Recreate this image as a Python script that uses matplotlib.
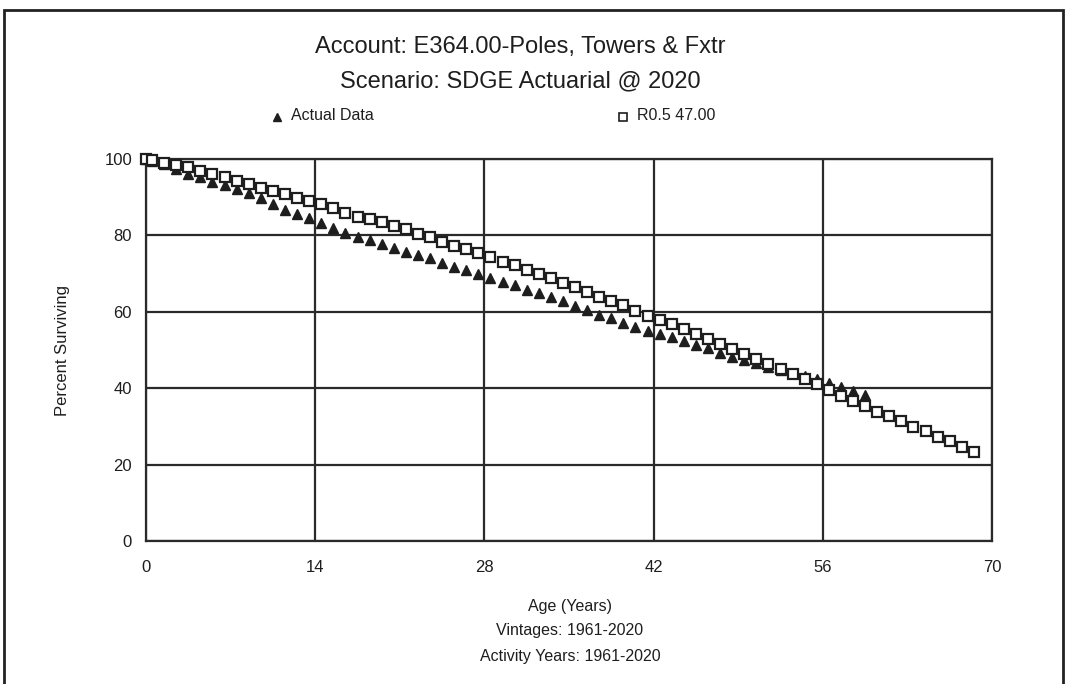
import matplotlib
matplotlib.use('Agg')
import matplotlib.pyplot as plt
from matplotlib.lines import Line2D
from matplotlib.patches import Rectangle

plt.rcParams['font.family'] = ['Liberation Sans', 'DejaVu Sans']

# ---- data ----
fit_ages = [0, 0.5, 1.5, 2.5, 3.5, 4.5, 5.5, 6.5, 7.5, 8.5, 9.5, 10.5, 11.5, 12.5,
            13.5, 14.5, 15.5, 16.5, 17.5, 18.5, 19.5, 20.5, 21.5, 22.5, 23.5, 24.5,
            25.5, 26.5, 27.5, 28.5, 29.5, 30.5, 31.5, 32.5, 33.5, 34.5, 35.5, 36.5,
            37.5, 38.5, 39.5, 40.5, 41.5, 42.5, 43.5, 44.5, 45.5, 46.5, 47.5, 48.5,
            49.5, 50.5, 51.5, 52.5, 53.5, 54.5, 55.5, 56.5, 57.5, 58.5, 59.5, 60.5,
            61.5, 62.5, 63.5, 64.5, 65.5, 66.5, 67.5, 68.5]
fit_pct = [100.0, 99.7, 99.0, 98.4, 97.8, 96.9, 96.0, 95.2, 94.2, 93.4, 92.5, 91.7,
           90.8, 89.9, 89.0, 88.1, 87.1, 85.9, 84.9, 84.2, 83.4, 82.5, 81.6, 80.4,
           79.5, 78.4, 77.3, 76.4, 75.3, 74.3, 73.1, 72.2, 70.9, 70.0, 68.8, 67.6,
           66.4, 65.1, 64.0, 62.9, 61.7, 60.3, 59.0, 57.9, 56.7, 55.4, 54.2, 52.8,
           51.6, 50.3, 49.0, 47.6, 46.3, 44.9, 43.6, 42.3, 41.0, 39.5, 38.0, 36.7,
           35.3, 33.8, 32.7, 31.3, 29.8, 28.7, 27.3, 26.1, 24.7, 23.4]

act_ages = [0, 0.5, 1.5, 2.5, 3.5, 4.5, 5.5, 6.5, 7.5, 8.5, 9.5, 10.5, 11.5, 12.5,
            13.5, 14.5, 15.5, 16.5, 17.5, 18.5, 19.5, 20.5, 21.5, 22.5, 23.5, 24.5,
            25.5, 26.5, 27.5, 28.5, 29.5, 30.5, 31.5, 32.5, 33.5, 34.5, 35.5, 36.5,
            37.5, 38.5, 39.5, 40.5, 41.5, 42.5, 43.5, 44.5, 45.5, 46.5, 47.5, 48.5,
            49.5, 50.5, 51.5, 52.5, 53.5, 54.5, 55.5, 56.5, 57.5, 58.5, 59.5]
act_pct = [100.0, 99.6, 98.6, 97.3, 96.2, 95.3, 94.0, 93.1, 92.2, 91.0, 89.7, 88.1,
           86.6, 85.7, 84.5, 83.2, 82.0, 80.6, 79.7, 78.8, 77.7, 76.6, 75.7, 74.9,
           74.0, 72.7, 71.8, 70.9, 70.0, 68.8, 67.9, 67.0, 65.8, 64.8, 63.9, 62.8,
           61.5, 60.6, 59.2, 58.3, 57.1, 56.1, 55.0, 54.3, 53.3, 52.4, 51.3, 50.4,
           49.3, 48.2, 47.4, 46.5, 45.6, 44.8, 44.0, 43.3, 42.5, 41.3, 40.2, 39.3,
           38.2]

x_ticks = [0, 14, 28, 42, 56, 70]
y_ticks = [0, 20, 40, 60, 80, 100]

title1 = 'Account: E364.00-Poles, Towers & Fxtr'
title2 = 'Scenario: SDGE Actuarial @ 2020'
label_actual = 'Actual Data'
label_fit = 'R0.5 47.00'
ylabel = 'Percent Surviving'
xlabel_lines = ['Age (Years)', 'Vintages: 1961-2020', 'Activity Years: 1961-2020']

# ---- figure ----
W, H = 1066, 684
fig = plt.figure(figsize=(W / 100, H / 100), dpi=100)
fig.patch.set_facecolor('white')

def fx(px):
    return px / W

def fy(py):
    return 1 - py / H

ax = fig.add_axes([fx(146), fy(541), fx(992) - fx(146), fy(159) - fy(541)])
ink = '#1e1e1e'

ax.plot(act_ages, act_pct, linestyle='none', marker='^', ms=7.5, color=ink,
        mec=ink, zorder=3, clip_on=False)
ax.plot(fit_ages, fit_pct, linestyle='none', marker='s', ms=7.0, mfc='white',
        mec=ink, mew=1.6, zorder=4, clip_on=False)

ax.set_xlim(0, 70)
ax.set_ylim(0, 100)
ax.set_xticks(x_ticks)
ax.set_yticks(y_ticks)
ax.grid(True, color='#2a2a2a', lw=1.6, zorder=1)
ax.set_axisbelow(True)
for s in ax.spines.values():
    s.set_color('#2a2a2a')
    s.set_linewidth(1.6)
ax.tick_params(length=0, labelsize=12, colors=ink)
ax.tick_params(axis='x', pad=14)
ax.tick_params(axis='y', pad=10)

# titles
fig.text(fx(520), fy(47), title1, ha='center', va='center', fontsize=17, color=ink)
fig.text(fx(520), fy(81), title2, ha='center', va='center', fontsize=17, color=ink)

# legend
fig.add_artist(Line2D([fx(277)], [fy(117)], marker='^', ms=6, color=ink,
                      linestyle='none', transform=fig.transFigure))
fig.text(fx(291), fy(116), label_actual, ha='left', va='center', fontsize=11.5, color=ink)
fig.add_artist(Line2D([fx(623)], [fy(117)], marker='s', ms=6, mfc='white', mec=ink,
                      mew=1.2, linestyle='none', transform=fig.transFigure))
fig.text(fx(637), fy(116), label_fit, ha='left', va='center', fontsize=11.5, color=ink)

# axis labels
fig.text(fx(62), fy(350), ylabel, rotation=90, ha='center', va='center',
         fontsize=12, color=ink)
for i, line in enumerate(xlabel_lines):
    fig.text(fx(570), fy(606 + 25 * i), line, ha='center', va='center',
             fontsize=11.5, color=ink)

# outer frame
fig.add_artist(Rectangle((fx(4), -0.05), fx(1063) - fx(4), fy(10) + 0.05,
                         fill=False, lw=2, edgecolor='#222', transform=fig.transFigure))

fig.savefig('out.png', dpi=100)
